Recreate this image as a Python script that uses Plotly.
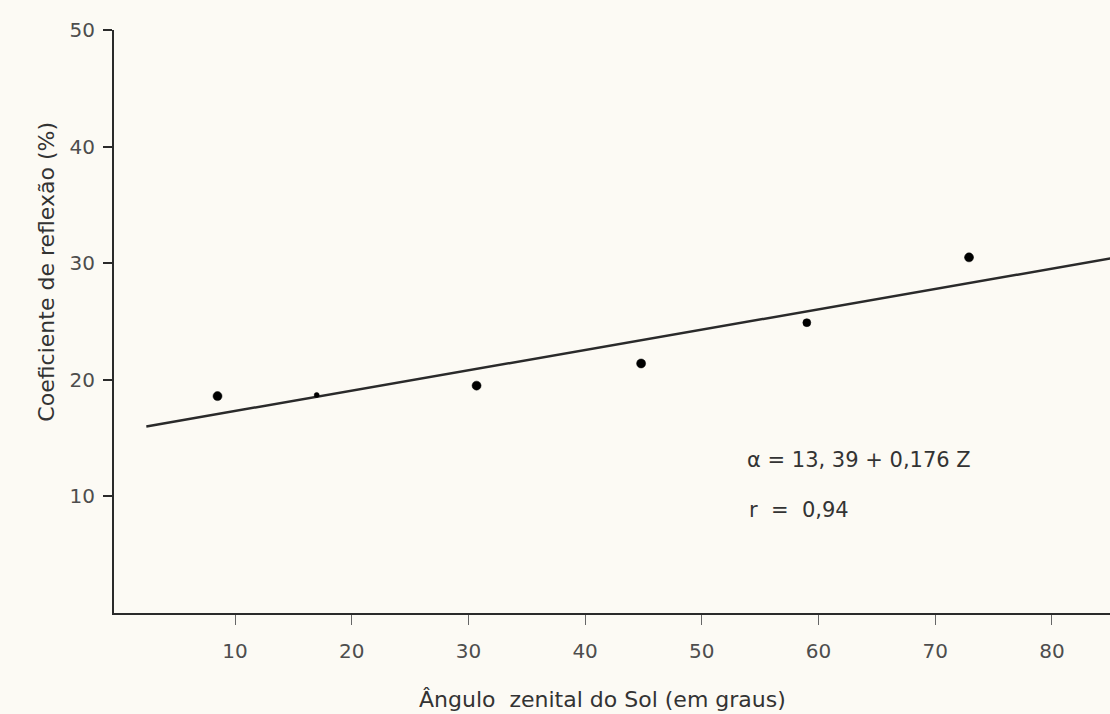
import plotly.graph_objects as go

# Observed points (zenith angle in degrees, reflection coefficient in %)
angle_deg = [8.5, 17.0, 30.7, 44.8, 59.0, 72.9]
reflection_pct = [18.6, 18.7, 19.5, 21.4, 24.9, 30.5]
point_sizes = [9, 5, 9, 9, 8, 9]

# Fitted regression line as drawn
fit_x = [2.4, 85.0]
fit_y = [16.0, 30.4]

x_ticks = [10, 20, 30, 40, 50, 60, 70, 80]
y_ticks = [10, 20, 30, 40, 50]

equation_text = "α = 13, 39 + 0,176 Z"
r_text = "r  =  0,94"
x_title = "Ângulo  zenital do Sol (em graus)"
y_title = "Coeficiente de reflexão (%)"

FONT = "DejaVu Sans"
INK = "#2a2a2a"
LABEL = "#4d4d4d"
BG = "#fcfaf4"

fig = go.Figure()
fig.add_trace(go.Scatter(
    x=fit_x, y=fit_y, mode="lines",
    line=dict(color=INK, width=2.5), hoverinfo="skip", showlegend=False,
))
fig.add_trace(go.Scatter(
    x=angle_deg, y=reflection_pct, mode="markers",
    marker=dict(color="#000000", size=point_sizes, opacity=1,
                line=dict(width=0.5, color="#000000")),
    showlegend=False,
))

fig.add_annotation(x=53.7, y=13.1, xref="x", yref="y", text=equation_text,
                   showarrow=False, xanchor="left", yanchor="middle",
                   font=dict(family=FONT, size=21, color="#333333"))
fig.add_annotation(x=53.9, y=8.8, xref="x", yref="y", text=r_text,
                   showarrow=False, xanchor="left", yanchor="middle",
                   font=dict(family=FONT, size=21, color="#333333"))
fig.add_annotation(x=0.49, y=-0.149, xref="paper", yref="paper", text=x_title,
                   showarrow=False, xanchor="center", yanchor="middle",
                   font=dict(family=FONT, size=22, color="#333333"))
fig.add_annotation(x=-0.068, y=0.586, xref="paper", yref="paper", text=y_title,
                   textangle=-90, showarrow=False, xanchor="center", yanchor="middle",
                   font=dict(family=FONT, size=22, color="#333333"))

fig.update_xaxes(
    range=[-0.37, 84.98], showline=True, linecolor=INK, linewidth=2,
    showgrid=False, zeroline=False, tickmode="array", tickvals=x_ticks,
    ticks="outside", ticklen=10, tickwidth=1, tickcolor="#666666",
    ticklabelstandoff=9,
    tickfont=dict(family=FONT, size=20, color=LABEL),
)
fig.update_yaxes(
    range=[0, 50], showline=True, linecolor=INK, linewidth=2,
    showgrid=False, zeroline=False, tickmode="array", tickvals=y_ticks,
    ticks="outside", ticklen=9, tickwidth=2, tickcolor=INK,
    ticklabelstandoff=4,
    tickfont=dict(family=FONT, size=20, color=LABEL),
)
fig.update_layout(
    width=1110, height=714,
    margin=dict(l=114, r=0, t=30, b=101),
    paper_bgcolor=BG, plot_bgcolor=BG,
    showlegend=False,
)

fig.write_html("out.html")
